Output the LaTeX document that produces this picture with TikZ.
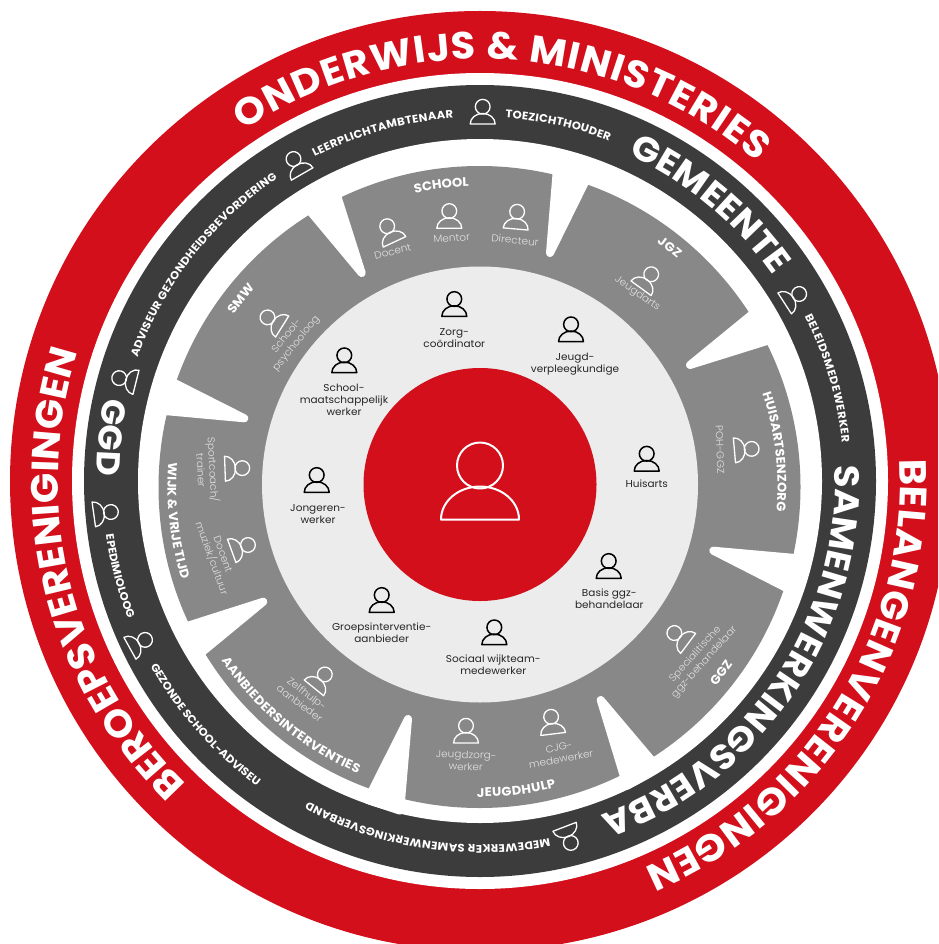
\documentclass[tikz,border=0pt]{standalone}
\usepackage{fontspec}
\setmainfont[FakeStretch=1.05]{Poppins}
\newfontfamily\thinfont[FakeStretch=1.05]{Poppins Light}
\usetikzlibrary{calc, decorations.text}

\definecolor{ringred}{HTML}{D30F1C}
\definecolor{ringdark}{HTML}{3C3C3C}
\definecolor{ringgray}{HTML}{878887}
\definecolor{ringlight}{HTML}{ECECEC}
\definecolor{labelgray}{HTML}{E2E2E2}

\newcommand{\fontred}{\color{white}\bfseries\fontsize{38}{38}\selectfont}
\newcommand{\fontdark}{\color{white}\bfseries\fontsize{35}{35}\selectfont}
\newcommand{\fontggd}{\color{white}\bfseries\fontsize{33}{33}\selectfont}
\newcommand{\fontsmall}{\color{white}\bfseries\fontsize{11}{11}\selectfont}
\newcommand{\fonthead}{\color{white}\bfseries\fontsize{12.5}{12.5}\selectfont}

\begin{document}
\begin{tikzpicture}[line cap=round,line join=round,x=1pt,y=1pt,
  person/.pic={
    \draw[#1] (0,15.5) circle (23);
    \draw[#1] (-39,-38.5) arc (180:0:39 and 33) -- cycle;
  },
  icon/.style={scale=.32},
  iconblack/.style={draw=black,line width=1.5pt},
  iconwhite/.style={draw=white,line width=1.3pt},
  arclabel/.style 2 args={decorate,decoration={text along path,text align={fit to path},text={|#1|#2}}},
  whomlabel/.style={inner sep=0pt,align=center,font=\fontsize{10}{12}\selectfont,text=black!85},
  rolelabel/.style={inner sep=0pt,align=center,font=\thinfont\fontsize{10}{12}\selectfont,text=labelgray},
  cut/.style={fill=white,draw=white,line width=8pt}]
\useasboundingbox (0,-944) rectangle (938,0);
\clip (0,-944) rectangle (938,0);

\coordinate (O) at (480,-481);
\coordinate (G) at (479.5,-487);
\coordinate (C) at (480,-484.5);

\fill[ringred] (O) circle (470);
\fill[white] (O) circle (408);
\fill[ringdark] (O) circle (396);
\fill[white] (O) circle (342);
\fill[ringgray] (G) circle (321);

% wedges between the sectors
\coordinate (A1) at (552.7,-173);
\coordinate (B1) at (588,-185);
\coordinate (T1) at (550,-253);
\coordinate (A2) at (749,-311.7);
\coordinate (B2) at (767.3,-345);
\coordinate (T2) at (690,-365);
\coordinate (A3) at (794.3,-554);
\coordinate (B3) at (783,-590.7);
\coordinate (T3) at (713.3,-550.7);
\coordinate (A4) at (654,-757);
\coordinate (B4) at (620,-776.7);
\coordinate (T4) at (600.7,-700);
\coordinate (A5) at (405,-800);
\coordinate (B5) at (369,-788);
\coordinate (T5) at (408,-719);
\coordinate (A6) at (205.7,-654.3);
\coordinate (B6) at (187.7,-621.7);
\coordinate (T6) at (263.3,-601.7);
\coordinate (A7) at (165.7,-415);
\coordinate (B7) at (177.3,-380);
\coordinate (T7) at (244.3,-418.3);
\coordinate (A8) at (309,-216);
\coordinate (B8) at (341.7,-197.3);
\coordinate (T8) at (361.7,-273);

\draw[cut] ($(T1)!1.15!($(A1)!4pt!(B1)$)$) -- (T1) -- ($(T1)!1.15!($(B1)!4pt!(A1)$)$) -- cycle;
\draw[cut] ($(T2)!1.15!($(A2)!4pt!(B2)$)$) -- (T2) -- ($(T2)!1.15!($(B2)!4pt!(A2)$)$) -- cycle;
\draw[cut] ($(T3)!1.15!($(A3)!4pt!(B3)$)$) -- (T3) -- ($(T3)!1.15!($(B3)!4pt!(A3)$)$) -- cycle;
\draw[cut] ($(T4)!1.15!($(A4)!4pt!(B4)$)$) -- (T4) -- ($(T4)!1.15!($(B4)!4pt!(A4)$)$) -- cycle;
\draw[cut] ($(T5)!1.15!($(A5)!4pt!(B5)$)$) -- (T5) -- ($(T5)!1.15!($(B5)!4pt!(A5)$)$) -- cycle;
\draw[cut] ($(T6)!1.15!($(A6)!4pt!(B6)$)$) -- (T6) -- ($(T6)!1.15!($(B6)!4pt!(A6)$)$) -- cycle;
\draw[cut] ($(T7)!1.15!($(A7)!4pt!(B7)$)$) -- (T7) -- ($(T7)!1.15!($(B7)!4pt!(A7)$)$) -- cycle;
\draw[cut] ($(T8)!1.15!($(A8)!4pt!(B8)$)$) -- (T8) -- ($(T8)!1.15!($(B8)!4pt!(A8)$)$) -- cycle;

\fill[ringlight] (C) circle (218);
\fill[ringred] (C) circle (116.5);

% red ring
\path[arclabel={\fontred}{ONDERWIJS {\&} MINISTERIES}] ($(O)+(124:422)$) arc (124:49:422);
\path[arclabel={\fontred}{BELANGENVERENIGINGEN}] ($(O)+(3:420)$) arc (3:-67:420);
\path[arclabel={\fontred}{BEROEPSVERENIGINGEN}] ($(O)+(226:422)$) arc (226:163:422);

% dark ring
\path[arclabel={\fontdark}{GEMEENTE}] ($(O)+(65.5:358)$) arc (65.5:35.7:358);
\path[arclabel={\fontdark}{SAMENWERKINGSVERBAND}] ($(O)+(2.5:355)$) arc (2.5:-72:355);
\path[arclabel={\fontggd}{GGD}] ($(O)+(167.5:384)$) arc (167.5:178.6:384);
\path[arclabel={\fontsmall}{LEERPLICHTAMBTENAAR}] ($(O)+(117:364)$) arc (117:94.2:364);
\path[arclabel={\fontsmall}{TOEZICHTHOUDER}] ($(O)+(86:364)$) arc (86:69.2:364);
\path[arclabel={\fontsmall}{ADVISEUR GEZONDHEIDSBEVORDERING}] ($(O)+(160.2:364)$) arc (160.2:123.8:364);
\path[arclabel={\fontsmall}{BELEIDSMEDEWERKER}] ($(O)+(26.9:364)$) arc (26.9:6:364);
\path[arclabel={\fontsmall}{MEDEWERKER SAMENWERKINGSVERBAND}] ($(O)+(-79:364)$) arc (-79:-118.2:364);
\path[arclabel={\fontsmall}{EPEDIMIOLOOG}] ($(O)+(188.2:378)$) arc (188.2:201:378);
\path[arclabel={\fontsmall}{GEZONDE SCHOOL-ADVISEUR}] ($(O)+(209.3:378)$) arc (209.3:234:378);

% sector headings
\path[arclabel={\fonthead}{SCHOOL}] ($(G)+(102.4:301)$) arc (102.4:92:301);
\path[arclabel={\fonthead}{JGZ}] ($(G)+(54.1:302)$) arc (54.1:49.1:302);
\path[arclabel={\fonthead}{HUISARTSENZORG}] ($(G)+(18.3:298)$) arc (18.3:-4.7:298);
\path[arclabel={\fonthead}{GGZ}] ($(G)+(-40.1:309)$) arc (-40.1:-35.4:309);
\path[arclabel={\fonthead}{JEUGDHULP}] ($(G)+(-90.5:310)$) arc (-90.5:-75.7:310);
\path[arclabel={\fonthead}{AANBIEDERSINTERVENTIES}] ($(G)+(213.9:311)$) arc (213.9:247:311);
\path[arclabel={\fonthead}{WIJK {\&} VRIJE TIJD}] ($(G)+(175.5:312)$) arc (175.5:197:312);
\path[arclabel={\fonthead}{SMW}] ($(G)+(145:300)$) arc (145:139:300);

% centre
\pic (client) at (480,-481) {person={draw=white,line width=2pt}};

% inner circle
\pic[icon] (zorg) at (454.3,-304) {person=iconblack};
\node[whomlabel] (zorgtext) at (454.3,-338) {Zorg-\\coördinator};
\pic[icon] (verpleeg) at (571,-329.3) {person=iconblack};
\node[whomlabel] (verpleegtext) at (575,-363.7) {Jeugd-\\verpleegkundige};
\pic[icon] (huisarts) at (646.7,-458.7) {person=iconblack};
\node[whomlabel] (huisartstext) at (646.7,-484) {Huisarts};
\pic[icon] (basis) at (608.7,-566) {person=iconblack};
\node[whomlabel] (basistext) at (609.3,-598.3) {Basis ggz-\\behandelaar};
\pic[icon] (wijkteam) at (494.3,-632.3) {person=iconblack};
\node[whomlabel] (wijkteamtext) at (493.3,-664.3) {Sociaal wijkteam-\\medewerker};
\pic[icon] (groeps) at (381.7,-600) {person=iconblack};
\node[whomlabel] (groepstext) at (381.7,-632.3) {Groepsinterventie-\\aanbieder};
\pic[icon] (jongeren) at (316.7,-480) {person=iconblack};
\node[whomlabel] (jongerentext) at (318,-514.3) {Jongeren-\\werker};
\pic[icon] (maatsch) at (344.3,-360.3) {person=iconblack};
\node[whomlabel] (maatschtext) at (344,-399.7) {School-\\maatschappelijk\\werker};

% sectors
\pic[icon,rotate=25] (docent) at (389.3,-230.7) {person=iconwhite};
\node[rolelabel,rotate=15] (docenttext) at (392.7,-251.7) {Docent};
\pic[icon] (mentor) at (449.3,-216) {person=iconwhite};
\node[rolelabel,rotate=4] (mentortext) at (451.7,-238.3) {Mentor};
\pic[icon,rotate=-5] (directeur) at (516.7,-216.7) {person=iconwhite};
\node[rolelabel,rotate=-6] (directeurtext) at (515,-240) {Directeur};
\pic[icon,rotate=-36] (jeugdarts) at (648.3,-278.3) {person=iconwhite};
\node[rolelabel,rotate=-35] (jeugdartstext) at (637.3,-294) {Jeugdarts};
\pic[icon,rotate=-85] (poh) at (746.7,-449.3) {person=iconwhite};
\node[rolelabel,rotate=-88] (pohtext) at (720,-449.3) {POH-GGZ};
\pic[icon,rotate=53] (specialist) at (678.3,-636) {person=iconwhite};
\node[rolelabel,rotate=48] (specialisttext) at (700,-658.3) {Specialitische\\ggz-behandelaar};
\pic[icon,rotate=7] (cjg) at (551.7,-721.7) {person=iconwhite};
\node[rolelabel,rotate=10] (cjgtext) at (560,-753.3) {CJG-\\medewerker};
\pic[icon] (jeugdzorg) at (466,-730.7) {person=iconwhite};
\node[rolelabel,rotate=-2] (jeugdzorgtext) at (466,-760.7) {Jeugdzorg-\\werker};
\pic[icon,rotate=-39] (zelfhulp) at (321.7,-678.3) {person=iconwhite};
\node[rolelabel,rotate=-37] (zelfhulptext) at (303.3,-698.3) {Zelfhulp-\\aanbieder};
\pic[icon,rotate=-70] (muziek) at (243.3,-546.7) {person=iconwhite};
\node[rolelabel,rotate=-70] (muziektext) at (216.7,-556.7) {Docent\\muziek/cultuur};
\pic[icon,rotate=-88] (sport) at (237.3,-468.3) {person=iconwhite};
\node[rolelabel,rotate=-87] (sporttext) at (208,-470) {Sportcoach/\\trainer};
\pic[icon,rotate=58] (psycholoog) at (271.7,-320) {person=iconwhite};
\node[rolelabel,rotate=51] (psycholoogtext) at (291.7,-340) {School-\\psychooloog};

% dark ring persons
\pic[icon,rotate=30] (leerplicht) at (296,-163.3) {person=iconwhite};
\pic[icon] (toezicht) at (482.7,-111.7) {person=iconwhite};
\pic[icon,rotate=-57] (beleid) at (795,-296.7) {person=iconwhite};
\pic[icon,rotate=-159] (medewerker) at (569,-838.3) {person=iconwhite};
\pic[icon,rotate=-61] (gezond) at (140.7,-642.3) {person=iconwhite};
\pic[icon,rotate=-82] (epidemio) at (106,-512.7) {person=iconwhite};
\pic[icon,rotate=76] (adviseur) at (124,-379.3) {person=iconwhite};
\end{tikzpicture}
\end{document}
